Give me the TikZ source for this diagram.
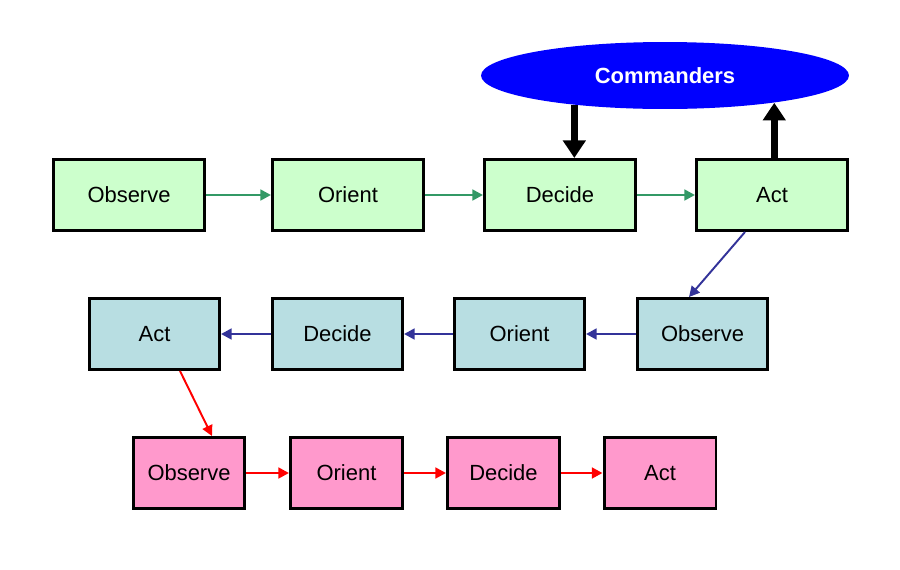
\documentclass[tikz,border=0pt]{standalone}
\usepackage{fontspec}
\setmainfont{Liberation Sans}
\usetikzlibrary{shapes.geometric,arrows.meta,calc}
\definecolor{greenfill}{HTML}{CCFFCC}
\definecolor{bluefill}{HTML}{B8DEE2}
\definecolor{pinkfill}{HTML}{FF99CC}
\definecolor{greenline}{HTML}{339966}
\definecolor{blueline}{HTML}{333399}
\definecolor{cmdblue}{HTML}{0000FF}
\tikzset{
	stage/.style={draw=black, line width=1.7pt, minimum height=1.42cm, inner sep=0pt, font=\fontsize{12.5}{14}\selectfont},
	greenstage/.style={stage, fill=greenfill, minimum width=3.02cm},
	bluestage/.style={stage, fill=bluefill, minimum width=2.6cm},
	pinkstage/.style={stage, fill=pinkfill, minimum width=2.24cm},
	loop/.style={line width=1.6pt, -{Triangle[length=6pt,width=6pt]}},
	cmdarrow/.style={line width=4pt, -{Triangle[length=10pt,width=12.5pt]}}
}
\begin{document}
\begin{tikzpicture}[x=0.02cm, y=-0.02cm]
		\useasboundingbox (0,0) rectangle (900,569);
		\node [ellipse, fill=cmdblue, minimum width=7.36cm, minimum height=1.34cm, inner sep=0pt, text=white, font=\bfseries\fontsize{12.5}{14}\selectfont] (cmd) at (665,75.5) {Commanders};
		\node [greenstage] (obs1) at (129,195) {Observe};
		\node [greenstage] (ori1) at (348,195) {Orient};
		\node [greenstage] (dec1) at (560,195) {Decide};
		\node [greenstage] (act1) at (772,195) {Act};
		\node [bluestage] (obs2) at (702.5,334) {Observe};
		\node [bluestage] (ori2) at (519.5,334) {Orient};
		\node [bluestage] (dec2) at (337.5,334) {Decide};
		\node [bluestage] (act2) at (154.5,334) {Act};
		\node [pinkstage] (obs3) at (189,473) {Observe};
		\node [pinkstage] (ori3) at (346.5,473) {Orient};
		\node [pinkstage] (dec3) at (503.5,473) {Decide};
		\node [pinkstage] (act3) at (660,473) {Act};
		\draw [loop, greenline] (obs1) -- (ori1);
		\draw [loop, greenline] (ori1) -- (dec1);
		\draw [loop, greenline] (dec1) -- (act1);
		\draw [cmdarrow] (cmd.198.7) -- (cmd.198.7 |- dec1.north);
		\draw [cmdarrow] (cmd.346.3 |- act1.north) -- (cmd.346.3);
		\draw [loop, blueline, line width=1.1pt] ($(act1.south)+(-27,0)$) -- ($(obs2.north)+(-13.5,0)$);
		\draw [loop, blueline] (obs2) -- (ori2);
		\draw [loop, blueline] (ori2) -- (dec2);
		\draw [loop, blueline] (dec2) -- (act2);
		\draw [loop, red, line width=1.1pt] ($(act2.south)+(25.5,0)$) -- ($(obs3.north)+(23,0)$);
		\draw [loop, red] (obs3) -- (ori3);
		\draw [loop, red] (ori3) -- (dec3);
		\draw [loop, red] (dec3) -- (act3);
	\end{tikzpicture}
\end{document}
